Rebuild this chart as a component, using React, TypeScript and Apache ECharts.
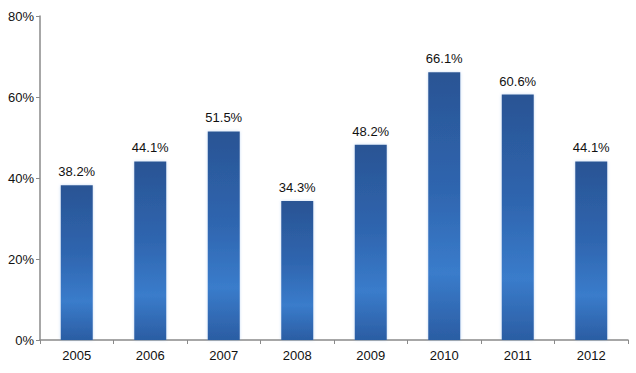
import React, { useEffect, useRef } from "react";
import * as echarts from "echarts";

const categories = ["2005", "2006", "2007", "2008", "2009", "2010", "2011", "2012"];
const values = [38.2, 44.1, 51.5, 34.3, 48.2, 66.1, 60.6, 44.1];
const yTicks = [0, 20, 40, 60, 80];

const FONT = "Liberation Sans, Arial, sans-serif";

export default function App() {
  const ref = useRef<HTMLDivElement>(null);
  useEffect(() => {
    if (!ref.current) return;
    const chart = echarts.init(ref.current, undefined, { renderer: "svg" });
    const barColor = new echarts.graphic.LinearGradient(0, 0, 0, 1, [
      { offset: 0, color: "#2a5494" },
      { offset: 0.45, color: "#2f66b0" },
      { offset: 0.75, color: "#3a7ccb" },
      { offset: 1, color: "#2b5da3" },
    ]);
    chart.setOption({
      animation: false,
      backgroundColor: "#ffffff",
      grid: { left: 40, right: 8, top: 16, bottom: 33, containLabel: false },
      xAxis: {
        type: "category",
        data: categories,
        axisLine: { show: true, lineStyle: { color: "#8a8a8a", width: 1.5 } },
        axisTick: { show: true, inside: false, length: 4, lineStyle: { color: "#8a8a8a" } },
        axisLabel: { color: "#111", fontSize: 13, fontFamily: FONT, margin: 9 },
      },
      yAxis: {
        type: "value",
        min: yTicks[0],
        max: yTicks[yTicks.length - 1],
        interval: 20,
        axisLine: { show: true, lineStyle: { color: "#8a8a8a", width: 1.5 } },
        axisTick: { show: true, length: 4, lineStyle: { color: "#8a8a8a" } },
        splitLine: { show: false },
        axisLabel: {
          color: "#111",
          fontSize: 13,
          fontFamily: FONT,
          margin: 6,
          formatter: (v: number) => `${v}%`,
        },
      },
      series: [
        {
          type: "bar",
          data: values,
          barWidth: 32,
          itemStyle: {
            color: barColor,
            shadowColor: "rgba(120,170,230,0.45)",
            shadowBlur: 3,
          },
          label: {
            show: true,
            position: "top",
            distance: 7,
            color: "#111",
            fontSize: 13,
            fontFamily: FONT,
            formatter: (p: any) => `${p.value.toFixed(1)}%`,
          },
        },
      ],
    });
    return () => chart.dispose();
  }, []);
  return <div ref={ref} style={{ width: 636, height: 373, position: "absolute", left: 0, top: 0 }} />;
}
